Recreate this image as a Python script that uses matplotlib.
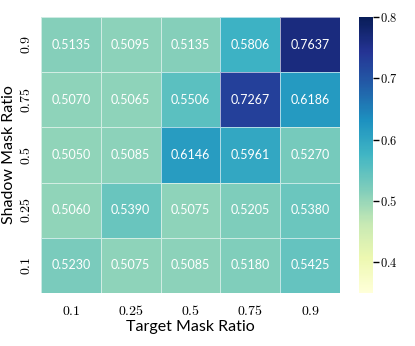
import matplotlib
matplotlib.use('Agg')
import matplotlib.pyplot as plt
import numpy as np
import seaborn as sns

plt.rcParams['mathtext.fontset'] = 'cm'

target_ratios = ['0.1', '0.25', '0.5', '0.75', '0.9']
shadow_ratios = ['0.9', '0.75', '0.5', '0.25', '0.1']

# rows: shadow ratio from 0.9 (top) to 0.1 (bottom)
row_09 = [0.5135, 0.5095, 0.5135, 0.5806, 0.7637]
row_075 = [0.5070, 0.5065, 0.5506, 0.7267, 0.6186]
row_05 = [0.5050, 0.5085, 0.6146, 0.5961, 0.5270]
row_025 = [0.5060, 0.5390, 0.5075, 0.5205, 0.5380]
row_01 = [0.5230, 0.5075, 0.5085, 0.5180, 0.5425]

data = np.array([row_09, row_075, row_05, row_025, row_01])

fig = plt.figure(figsize=(4.15, 3.46), dpi=100)
ax = fig.add_axes([41/415, 1 - 293/346, 299/415, 276/346])
cax = fig.add_axes([359/415, 1 - 293/346, 14/415, 276/346])

sns.heatmap(data, ax=ax, cbar_ax=cax, cmap='YlGnBu', vmin=0.35, vmax=0.8,
            annot=True, fmt='.4f',
            annot_kws={'color': 'white', 'fontsize': 9, 'family': 'Lato'},
            linewidths=0.6, linecolor=(1, 1, 1, 0.6))

ax.set_xticklabels(['$%s$' % t for t in target_ratios], fontsize=10)
ax.set_yticklabels(['$%s$' % t for t in shadow_ratios], fontsize=10, rotation=90, va='center')
ax.tick_params(axis='x', length=0, pad=8)
ax.tick_params(axis='y', length=0, pad=6)
ax.set_xlabel('Target Mask Ratio', fontsize=11.5, family='Lato', labelpad=1)
ax.set_ylabel('Shadow Mask Ratio', fontsize=11.5, family='Lato', labelpad=2)

cax.set_yticks([0.4, 0.5, 0.6, 0.7, 0.8])
cax.set_yticklabels(['$0.4$', '$0.5$', '$0.6$', '$0.7$', '$0.8$'], fontsize=9)
cax.tick_params(length=4, width=1, pad=1)
for s in cax.spines.values():
    s.set_visible(False)

fig.savefig('out.png', dpi=100)
